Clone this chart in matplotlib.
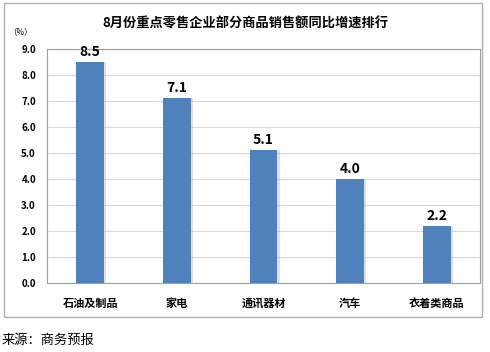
import matplotlib.pyplot as plt
from matplotlib.patches import Rectangle
import numpy as np

plt.rcParams['font.family'] = ['Noto Sans CJK SC', 'DejaVu Sans']

categories = ["石油及制品", "家电", "通讯器材", "汽车", "衣着类商品"]
values = [8.5, 7.1, 5.1, 4.0, 2.2]
yticks = np.arange(0, 9.5, 1.0)

fig = plt.figure(figsize=(4.9, 3.52), dpi=100)
# outer frame
fig.patches.append(Rectangle((4 / 490, 1 - 317 / 352), 478 / 490, 314 / 352,
                             transform=fig.transFigure, fill=False,
                             edgecolor='#b0b0b0', linewidth=1))

ax = fig.add_axes([47 / 490, 1 - 283 / 352, 433 / 490, 234 / 352])
x = np.arange(len(categories))
# soft shadow on the right side
ax.bar(x + 0.025, values, width=0.32, color='#b8b8b8', alpha=0.45, zorder=2)
ax.bar(x, values, width=0.32, color='#4f81bd', zorder=3)
for xi, v in zip(x, values):
    ax.text(xi, v + 0.12, f"{v:.1f}", ha='center', va='bottom',
            fontsize=10, fontweight='bold', zorder=4)

ax.set_xlim(-0.5, len(categories) - 0.5)
ax.set_ylim(0, 9)
ax.set_yticks(yticks)
ax.set_yticklabels([f"{t:.1f}" for t in yticks], fontsize=7, fontweight='bold')
ax.set_xticks(x)
ax.set_xticklabels(categories, fontsize=8, fontweight='bold')
ax.tick_params(length=0, pad=8)
ax.tick_params(axis='x', pad=10)
ax.grid(axis='y', color='#d9d9d9', linewidth=0.8, zorder=0)
for s in ax.spines.values():
    s.set_color('#a0a0a0')
    s.set_linewidth(0.8)

fig.text(245 / 490, 1 - 24 / 352, "8月份重点零售企业部分商品销售额同比增速排行",
         ha='center', va='center', fontsize=9.5, fontweight='bold')
fig.text(20 / 490, 1 - 32 / 352, "（%）", ha='center', va='center', fontsize=6)
fig.text(2 / 490, 1 - 340 / 352, "来源：商务预报", ha='left', va='center', fontsize=9.5)

fig.savefig("out.png", dpi=100)
